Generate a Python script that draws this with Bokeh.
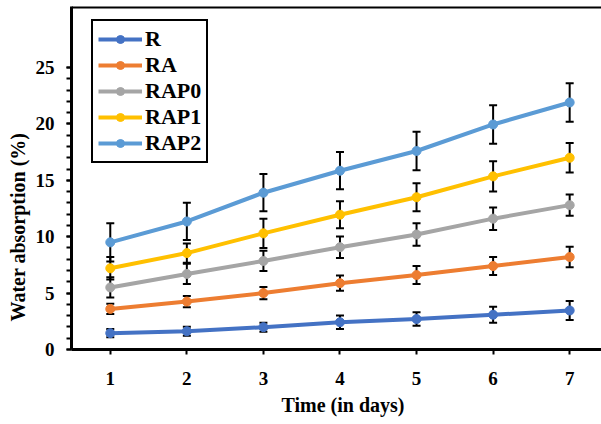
from bokeh.plotting import figure
from bokeh.models import (ColumnDataSource, Whisker, TeeHead, FixedTicker, Span,
                          Title, Legend)
from bokeh.embed import file_html
from bokeh.resources import INLINE

DAYS = [1, 2, 3, 4, 5, 6, 7]
SERIES = ["R", "RA", "RAP0", "RAP1", "RAP2"]
R = [1.45, 1.62, 1.98, 2.42, 2.7, 3.08, 3.46]
R_ERR = [0.37, 0.4, 0.4, 0.6, 0.6, 0.7, 0.85]
RA = [3.6, 4.25, 5.0, 5.88, 6.6, 7.4, 8.2]
RA_ERR = [0.45, 0.5, 0.55, 0.67, 0.8, 0.8, 0.9]
RAP0 = [5.5, 6.7, 7.85, 9.07, 10.2, 11.6, 12.8]
RAP0_ERR = [0.9, 0.9, 0.9, 0.95, 1.0, 1.0, 0.95]
RAP1 = [7.2, 8.55, 10.3, 11.95, 13.5, 15.35, 17.0]
RAP1_ERR = [1.0, 0.85, 1.3, 1.2, 1.25, 1.35, 1.3]
RAP2 = [9.5, 11.35, 13.9, 15.85, 17.6, 19.95, 21.9]
RAP2_ERR = [1.7, 1.65, 1.65, 1.65, 1.7, 1.7, 1.7]
COLORS = ["#4472C4", "#ED7D31", "#A5A5A5", "#FFC000", "#5B9BD5"]
Y_TICKS = [0, 5, 10, 15, 20, 25]
Y_MINOR = list(range(0, 26))
X_TITLE = "Time (in days)"
Y_TITLE = "Water absorption (%)"

VALUES = [R, RA, RAP0, RAP1, RAP2]
ERRORS = [R_ERR, RA_ERR, RAP0_ERR, RAP1_ERR, RAP2_ERR]

FONT = "Liberation Serif"
Y_END = 30.41

p = figure(width=601, height=424, output_backend="svg", toolbar_location=None,
           x_range=(0.4935, 7.4156), y_range=(0, Y_END),
           min_border_left=68, min_border_right=0, min_border_top=6, min_border_bottom=75)
p.background_fill_color = None
p.border_fill_color = None
p.outline_line_color = None
p.outline_line_width = 0
p.outline_line_alpha = 0
p.xgrid.visible = False
p.ygrid.visible = False

items = []
for name, vals, errs, col in zip(SERIES, VALUES, ERRORS, COLORS):
    src = ColumnDataSource(dict(x=DAYS, y=vals))
    ln = p.line("x", "y", source=src, line_color=col, line_width=4)
    sc = p.scatter("x", "y", source=src, size=9, fill_color=col, line_color=col)
    items.append((name, [ln, sc]))

for name, vals, errs, col in zip(SERIES, VALUES, ERRORS, COLORS):
    src = ColumnDataSource(dict(x=DAYS,
                                lo=[v - e for v, e in zip(vals, errs)],
                                hi=[v + e for v, e in zip(vals, errs)]))
    w = Whisker(base="x", lower="lo", upper="hi", source=src,
                line_color="black", line_width=2,
                upper_head=TeeHead(size=8, line_color="black", line_width=2),
                lower_head=TeeHead(size=8, line_color="black", line_width=2))
    p.add_layout(w)

legend = Legend(items=items, location=(20, 186), border_line_color="black",
                border_line_alpha=1.0, border_line_width=2.5,
                background_fill_color="white", background_fill_alpha=1.0,
                label_text_font=FONT, label_text_font_style="bold",
                label_text_font_size="22px", label_text_color="black",
                glyph_width=44, glyph_height=20, label_standoff=3,
                padding=5, spacing=0, margin=0)
p.add_layout(legend, "center")

# axes
for ax in (p.xaxis[0], p.yaxis[0]):
    ax.axis_line_width = 3
    ax.axis_line_color = "black"
    ax.major_tick_line_color = "black"
    ax.major_tick_line_width = 2
    ax.major_tick_out = 5
    ax.major_tick_in = 0
    ax.major_label_text_font = FONT
    ax.major_label_text_font_style = "bold"
    ax.major_label_text_font_size = "19px"
    ax.major_label_text_color = "black"

p.xaxis.ticker = FixedTicker(ticks=DAYS)
p.xaxis.minor_tick_line_color = None
p.xaxis.major_label_standoff = 17
p.yaxis.ticker = FixedTicker(ticks=Y_TICKS, minor_ticks=Y_MINOR)
p.yaxis.minor_tick_line_color = "black"
p.yaxis.minor_tick_line_width = 2
p.yaxis.minor_tick_out = 5
p.yaxis.minor_tick_in = 0
p.yaxis.major_label_standoff = 12

p.add_layout(Span(location=Y_END, dimension="width", line_color="black", line_width=4))

yt = Title(text=Y_TITLE, align="left", offset=28,
           text_font=FONT, text_font_style="bold", text_font_size="20px",
           text_color="black", standoff=8)
p.add_layout(yt, "left")
xt = Title(text=X_TITLE, align="left", offset=210,
           text_font=FONT, text_font_style="bold", text_font_size="20px",
           text_color="black", standoff=9, text_line_height=0.8)
p.add_layout(xt, "below")

open("out.html", "w").write(file_html(p, INLINE))
